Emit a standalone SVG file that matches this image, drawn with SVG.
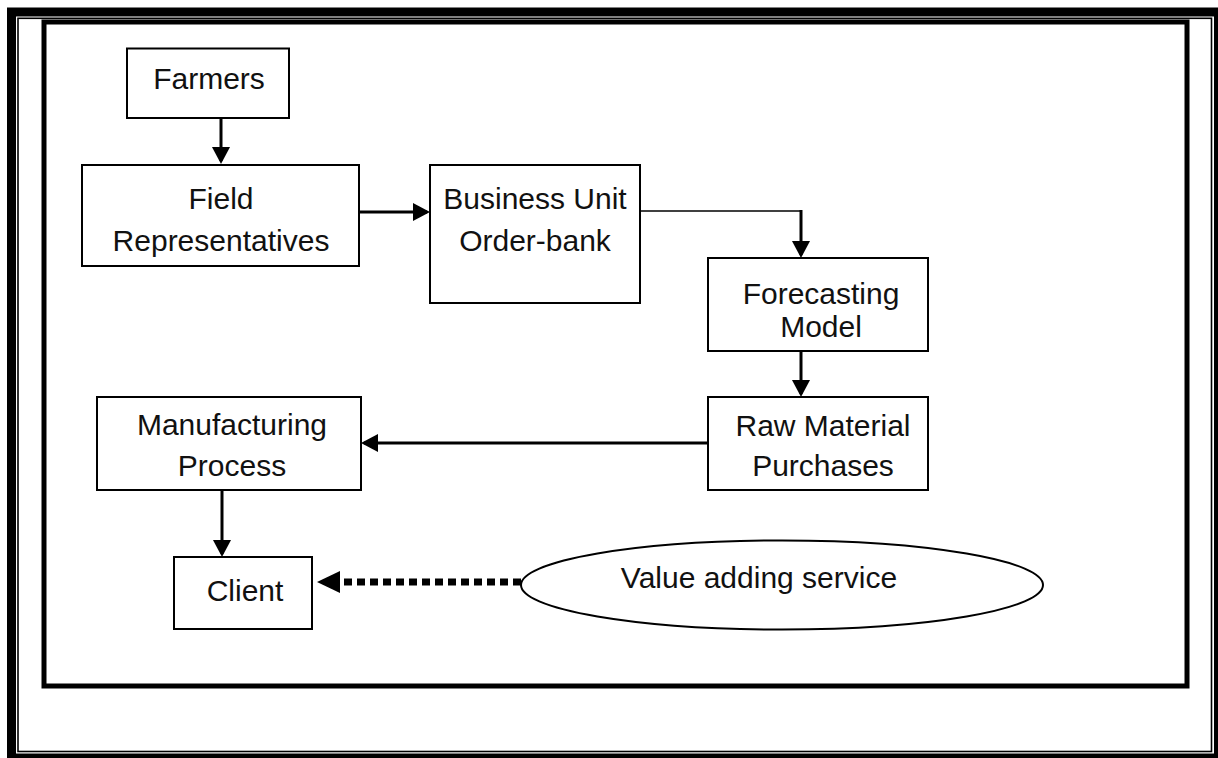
<svg xmlns="http://www.w3.org/2000/svg" width="1218" height="758" viewBox="0 0 1218 758">
  <style>
    .box { fill: #ffffff; stroke: #000000; stroke-width: 2; }
    .lbl { font-family: "Liberation Sans", Arial, sans-serif; font-size: 30px; fill: #111111; text-anchor: middle; }
    .arrow { fill: none; stroke: #000000; stroke-width: 3; marker-end: url(#head); }
    .thin { fill: none; stroke: #000000; stroke-width: 1.6; }
    .dotted { fill: none; stroke: #000000; stroke-width: 7; stroke-dasharray: 8 5; marker-end: url(#headBig); }
  </style>
  <defs>
    <marker id="head" viewBox="0 0 17 18" refX="14" refY="9" markerWidth="17" markerHeight="18" markerUnits="userSpaceOnUse" orient="auto">
      <path d="M0,0 L17,9 L0,18 Z" fill="#000000"/>
    </marker>
    <marker id="headBig" viewBox="0 0 23 22" refX="2" refY="11" markerWidth="23" markerHeight="22" markerUnits="userSpaceOnUse" orient="auto">
      <path d="M0,0 L23,11 L0,22 Z" fill="#000000"/>
    </marker>
  </defs>

  <rect width="1218" height="758" fill="#ffffff"/>

  <!-- page border: thick outer line with a thin inner line -->
  <g id="page-border" fill="none" stroke="#000000">
    <rect x="11.5" y="12" width="1207" height="746" stroke-width="9"/>
    <rect x="18" y="18.3" width="1193.5" height="733.2" stroke-width="1.6"/>
  </g>

  <!-- frame round the chart -->
  <rect id="frame" x="44" y="22" width="1143" height="664" fill="none" stroke="#000000" stroke-width="5"/>

  <g id="connectors">
    <line class="arrow" x1="221" y1="118" x2="221" y2="161"/>
    <line class="arrow" x1="359" y1="212" x2="427" y2="212"/>
    <line class="thin" x1="640" y1="211" x2="802" y2="211"/>
    <line class="arrow" x1="801" y1="210" x2="801" y2="255"/>
    <line class="arrow" x1="801" y1="351" x2="801" y2="394"/>
    <line class="arrow" x1="708" y1="443" x2="364" y2="443"/>
    <line class="arrow" x1="222" y1="490" x2="222" y2="554"/>
    <line class="dotted" x1="521" y1="582" x2="338" y2="582"/>
  </g>

  <g id="farmers">
    <rect class="box" x="127" y="48.5" width="162" height="69.5"/>
    <text class="lbl" x="209" y="89">Farmers</text>
  </g>

  <g id="field-representatives">
    <rect class="box" x="82" y="165" width="277" height="101"/>
    <text class="lbl" x="221" y="209">Field</text>
    <text class="lbl" x="221" y="251">Representatives</text>
  </g>

  <g id="business-unit">
    <rect class="box" x="430" y="165" width="210" height="138"/>
    <text class="lbl" x="535" y="209">Business Unit</text>
    <text class="lbl" x="535" y="251">Order-bank</text>
  </g>

  <g id="forecasting-model">
    <rect class="box" x="708" y="258" width="220" height="93"/>
    <text class="lbl" x="821" y="304">Forecasting</text>
    <text class="lbl" x="821" y="337">Model</text>
  </g>

  <g id="raw-material">
    <rect class="box" x="708" y="397" width="220" height="93"/>
    <text class="lbl" x="823" y="436">Raw Material</text>
    <text class="lbl" x="823" y="476">Purchases</text>
  </g>

  <g id="manufacturing">
    <rect class="box" x="97" y="397" width="264" height="93"/>
    <text class="lbl" x="232" y="435">Manufacturing</text>
    <text class="lbl" x="232" y="476">Process</text>
  </g>

  <g id="client">
    <rect class="box" x="174" y="557" width="138" height="72"/>
    <text class="lbl" x="245" y="601">Client</text>
  </g>

  <g id="value-adding-service">
    <ellipse class="box" cx="782" cy="585" rx="261" ry="44.5"/>
    <text class="lbl" x="759" y="588">Value adding service</text>
  </g>
</svg>
